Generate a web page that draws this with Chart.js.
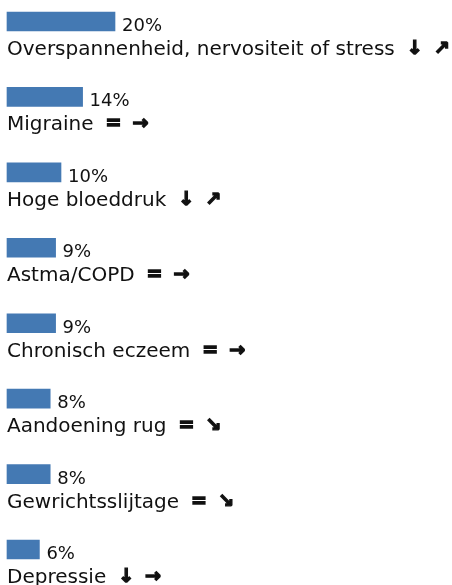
<!DOCTYPE html>
<html>
<head>
<meta charset="utf-8">
<script src="https://cdn.jsdelivr.net/npm/chart.js@4"></script>
<style>
  html, body { margin: 0; padding: 0; background: #fff; }
  #wrap { width: 452px; height: 585px; position: relative; }
</style>
</head>
<body>
<div id="wrap"><canvas id="chart"></canvas></div>
<script>
const categories = [
  "Overspannenheid, nervositeit of stress",
  "Migraine",
  "Hoge bloeddruk",
  "Astma/COPD",
  "Chronisch eczeem",
  "Aandoening rug",
  "Gewrichtsslijtage",
  "Depressie"
];
const values = [20, 14, 10, 9, 9, 8, 8, 6];
const trendFirst = ["↓", "=", "↓", "=", "=", "=", "=", "↓"];
const trendSecond = ["↗", "→", "↗", "→", "→", "↘", "↘", "→"];

const barColor = "#4479B3";
const textColor = "#111";

// value + category label drawn under every bar
const labelPlugin = {
  id: "labels",
  afterDatasetsDraw(chart) {
    const ctx = chart.ctx;
    const meta = chart.getDatasetMeta(0);
    ctx.save();
    ctx.fillStyle = textColor;
    ctx.strokeStyle = textColor;
    ctx.textBaseline = "alphabetic";
    ctx.textAlign = "left";
    meta.data.forEach((bar, i) => {
      const bottom = bar.y + bar.height / 2;
      ctx.font = "18px 'DejaVu Sans'";
      ctx.fillText(values[i] + "%", bar.x + 7, bottom);

      const labelY = bottom + 24;
      ctx.font = "20px 'DejaVu Sans'";
      ctx.fillText(categories[i], bar.base, labelY);
      let x = bar.base + ctx.measureText(categories[i]).width + 12;
      // heavy trend symbols
      ctx.font = "bold 19px 'DejaVu Sans'";
      ctx.lineWidth = 1.4;
      ctx.lineJoin = "miter";
      [trendFirst[i], trendSecond[i]].forEach(sym => {
        ctx.fillText(sym, x, labelY - 1);
        ctx.strokeText(sym, x, labelY - 1);
        x += ctx.measureText(sym).width + 11;
      });
    });
    ctx.restore();
  }
};

new Chart(document.getElementById("chart"), {
  type: "bar",
  data: {
    labels: categories,
    datasets: [{
      data: values,
      backgroundColor: barColor,
      barThickness: 19,
      clip: false
    }]
  },
  options: {
    indexAxis: "y",
    responsive: true,
    maintainAspectRatio: false,
    animation: false,
    layout: { padding: { left: 7, right: 13, top: 21.5, bottom: 35.5 } },
    scales: {
      x: { display: false, min: 0, max: 80 },
      y: { display: false, offset: false }
    },
    plugins: {
      legend: { display: false },
      tooltip: { enabled: false }
    }
  },
  plugins: [labelPlugin]
});
</script>
</body>
</html>
